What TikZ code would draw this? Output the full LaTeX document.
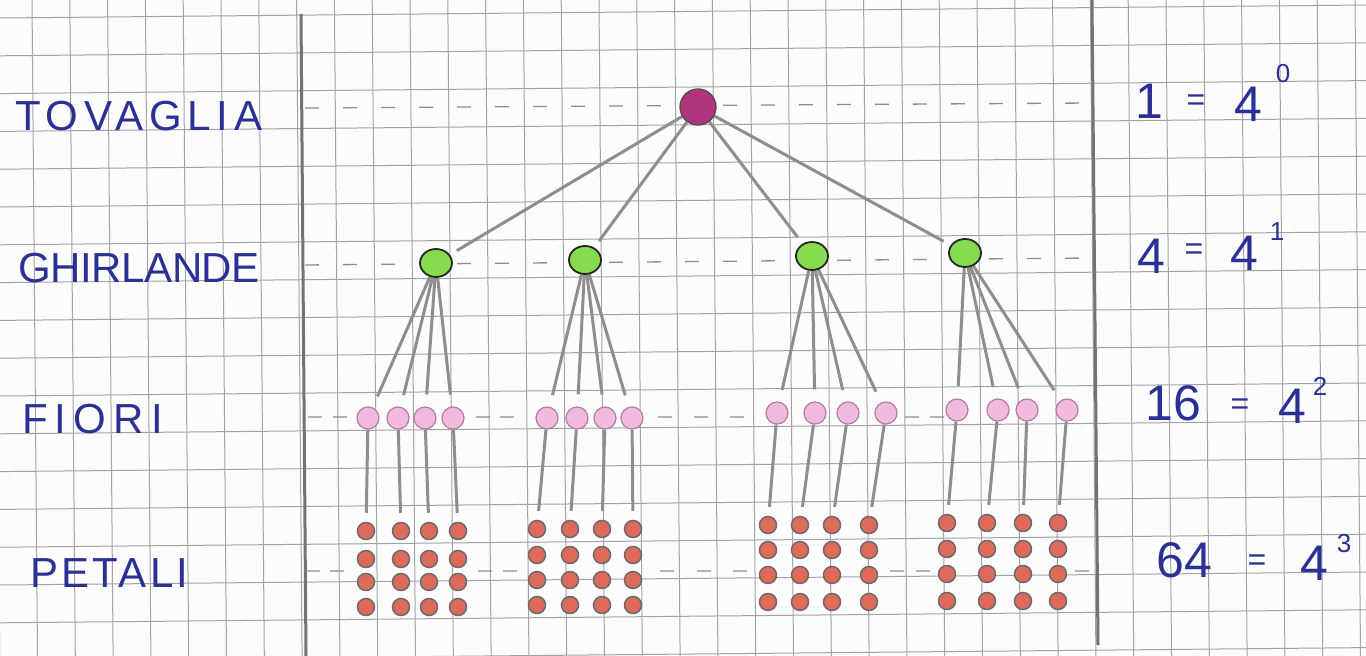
\documentclass[tikz,border=0pt]{standalone}
\usepackage{fontspec}
\setmainfont{Liberation Sans}
\newfontfamily\hand{Liberation Sans}
\usetikzlibrary{shapes.geometric}
\pgfdeclarelayer{bg}
\pgfsetlayers{bg,main}
\definecolor{ink}{HTML}{2B3194}
\definecolor{paper}{HTML}{FCFCFC}
\definecolor{gridc}{HTML}{A3A3A3}
\definecolor{conn}{HTML}{8E8E8E}
\definecolor{rootf}{HTML}{B2347F}
\definecolor{greenf}{HTML}{86DA4E}
\definecolor{pinkf}{HTML}{F3BADF}
\definecolor{pinkd}{HTML}{B07F9D}
\definecolor{petalf}{HTML}{DE6A5A}
\definecolor{petald}{HTML}{6E6A6A}
\begin{document}
\begin{tikzpicture}[x=1pt,y=-1pt,
  gridline/.style={draw=gridc, line width=1pt},
  margin/.style={draw=black!55, line width=3pt},
  guide/.style={draw=conn, line width=1.3pt, dash pattern=on 14pt off 24pt},
  dashpiece/.style={draw=conn, line width=1.3pt},
  link/.style={draw=conn, line width=3pt},
  rootnode/.style={circle, draw=black!70, line width=1.3pt, fill=rootf, minimum size=36pt, inner sep=0pt},
  greennode/.style={ellipse, draw=black!85, line width=1.8pt, fill=greenf, minimum width=32pt, minimum height=28pt, inner sep=0pt},
  pinknode/.style={circle, draw=pinkd, line width=1.2pt, fill=pinkf, minimum size=22pt, inner sep=0pt},
  petal/.style={circle, draw=petald, line width=1.5pt, fill=petalf, minimum size=17pt, inner sep=0pt},
  lvl/.style={text=ink, inner sep=0pt, anchor=base west, font=\hand\fontsize{42}{42}\selectfont},
  eqbig/.style={text=ink, inner sep=0pt, anchor=base, font=\hand\fontsize{50}{50}\selectfont},
  eqsign/.style={text=ink, inner sep=0pt, anchor=center, font=\hand\fontsize{32}{32}\selectfont},
  eqsup/.style={text=ink, inner sep=0pt, anchor=base, font=\hand\fontsize{26}{26}\selectfont}
]
\useasboundingbox (0,0) rectangle (1366,656);
\begin{pgfonlayer}{bg}
  \fill[paper] (0,0) rectangle (1366,656);
  \foreach \k in {-1,...,18} \draw[gridline] (0,18+37.8*\k) -- (1366,5+37.8*\k);
  \foreach \k in {-1,...,36} \draw[gridline] (32+37.8*\k,0) -- (37.5+37.8*\k,656);
  \draw[margin] (301,14) -- (306,656);
  \draw[margin] (1092,0) -- (1098,645);
  \draw[guide] (305,108) -- (1090,103);
  \draw[guide] (305,265) -- (1090,258);
  \foreach \x in {308,333,476,500,658,694,730,905,930} \draw[dashpiece] (\x,417) -- ++(14,-0.1);
  \foreach \x in {306,330,478,503,660,697,733,890,916,1075} \draw[dashpiece] (\x,571) -- ++(14,-0.1);
\end{pgfonlayer}

% labels
\node[lvl] (tl) at (15,130) {\addfontfeature{LetterSpace=14}TOVAGLIA};
\node[lvl] (gl) at (18,282) {\addfontfeature{LetterSpace=-1}GHIRLANDE};
\node[lvl] (fl) at (22,433) {\addfontfeature{LetterSpace=17}FIORI};
\node[lvl] (pl) at (30,587) {\addfontfeature{LetterSpace=8}PETALI};

% equations
\node[eqbig] (a0) at (1149,118) {1};
\node[eqsign] (b0) at (1196,103) {=};
\node[eqbig] (c0) at (1248,121) {4};
\node[eqsup] (d0) at (1283,82) {0};
\node[eqbig] (a1) at (1151,273) {4};
\node[eqsign] (b1) at (1194,252) {=};
\node[eqbig] (c1) at (1244,270) {4};
\node[eqsup] (d1) at (1277,240) {1};
\node[eqbig] (a2) at (1173,420) {16};
\node[eqsign] (b2) at (1240,407) {=};
\node[eqbig] (c2) at (1292,423) {4};
\node[eqsup] (d2) at (1320,395) {2};
\node[eqbig] (a3) at (1184,577) {64};
\node[eqsign] (b3) at (1257,563) {=};
\node[eqbig] (c3) at (1314,580) {4};
\node[eqsup] (d3) at (1344,552) {3};

% tree
\node[rootnode] (r) at (698,107) {};
\foreach \i/\x/\y in {1/436/263, 2/585/260, 3/812/256, 4/965/253}
  \node[greennode] (g\i) at (\x,\y) {};
\foreach \i/\a/\b/\c/\d/\y in {1/368/398/425/453/418, 2/547/577/605/632/418, 3/777/815/848/886/413, 4/957/998/1027/1067/410}{
  \foreach[count=\j] \x in {\a,\b,\c,\d}
    \node[pinknode] (f\i\j) at (\x,\y) {};
}
\foreach \i/\a/\b/\c/\d/\ya/\yb/\yc/\yd in {1/366/401/429/458/531/559/582/607, 2/537/570/602/633/529/555/580/605, 3/768/800/832/869/525/550/575/602, 4/947/987/1023/1058/523/549/574/601}{
  \foreach[count=\j] \x in {\a,\b,\c,\d}{
    \foreach[count=\k] \y in {\ya,\yb,\yc,\yd}
      \node[petal] (p\i\j\k) at (\x,\y) {};
  }
}

\begin{pgfonlayer}{bg}
  \foreach \i in {1,...,4} \draw[link, shorten >=8pt] (r) -- (g\i);
  \foreach \i in {1,...,4}{
    \foreach \j in {1,...,4}{
      \draw[link, shorten >=12pt] (g\i) -- (f\i\j);
      \draw[link, shorten >=9pt] (f\i\j) -- (p\i\j1);
    }
  }
\end{pgfonlayer}
\end{tikzpicture}
\end{document}
